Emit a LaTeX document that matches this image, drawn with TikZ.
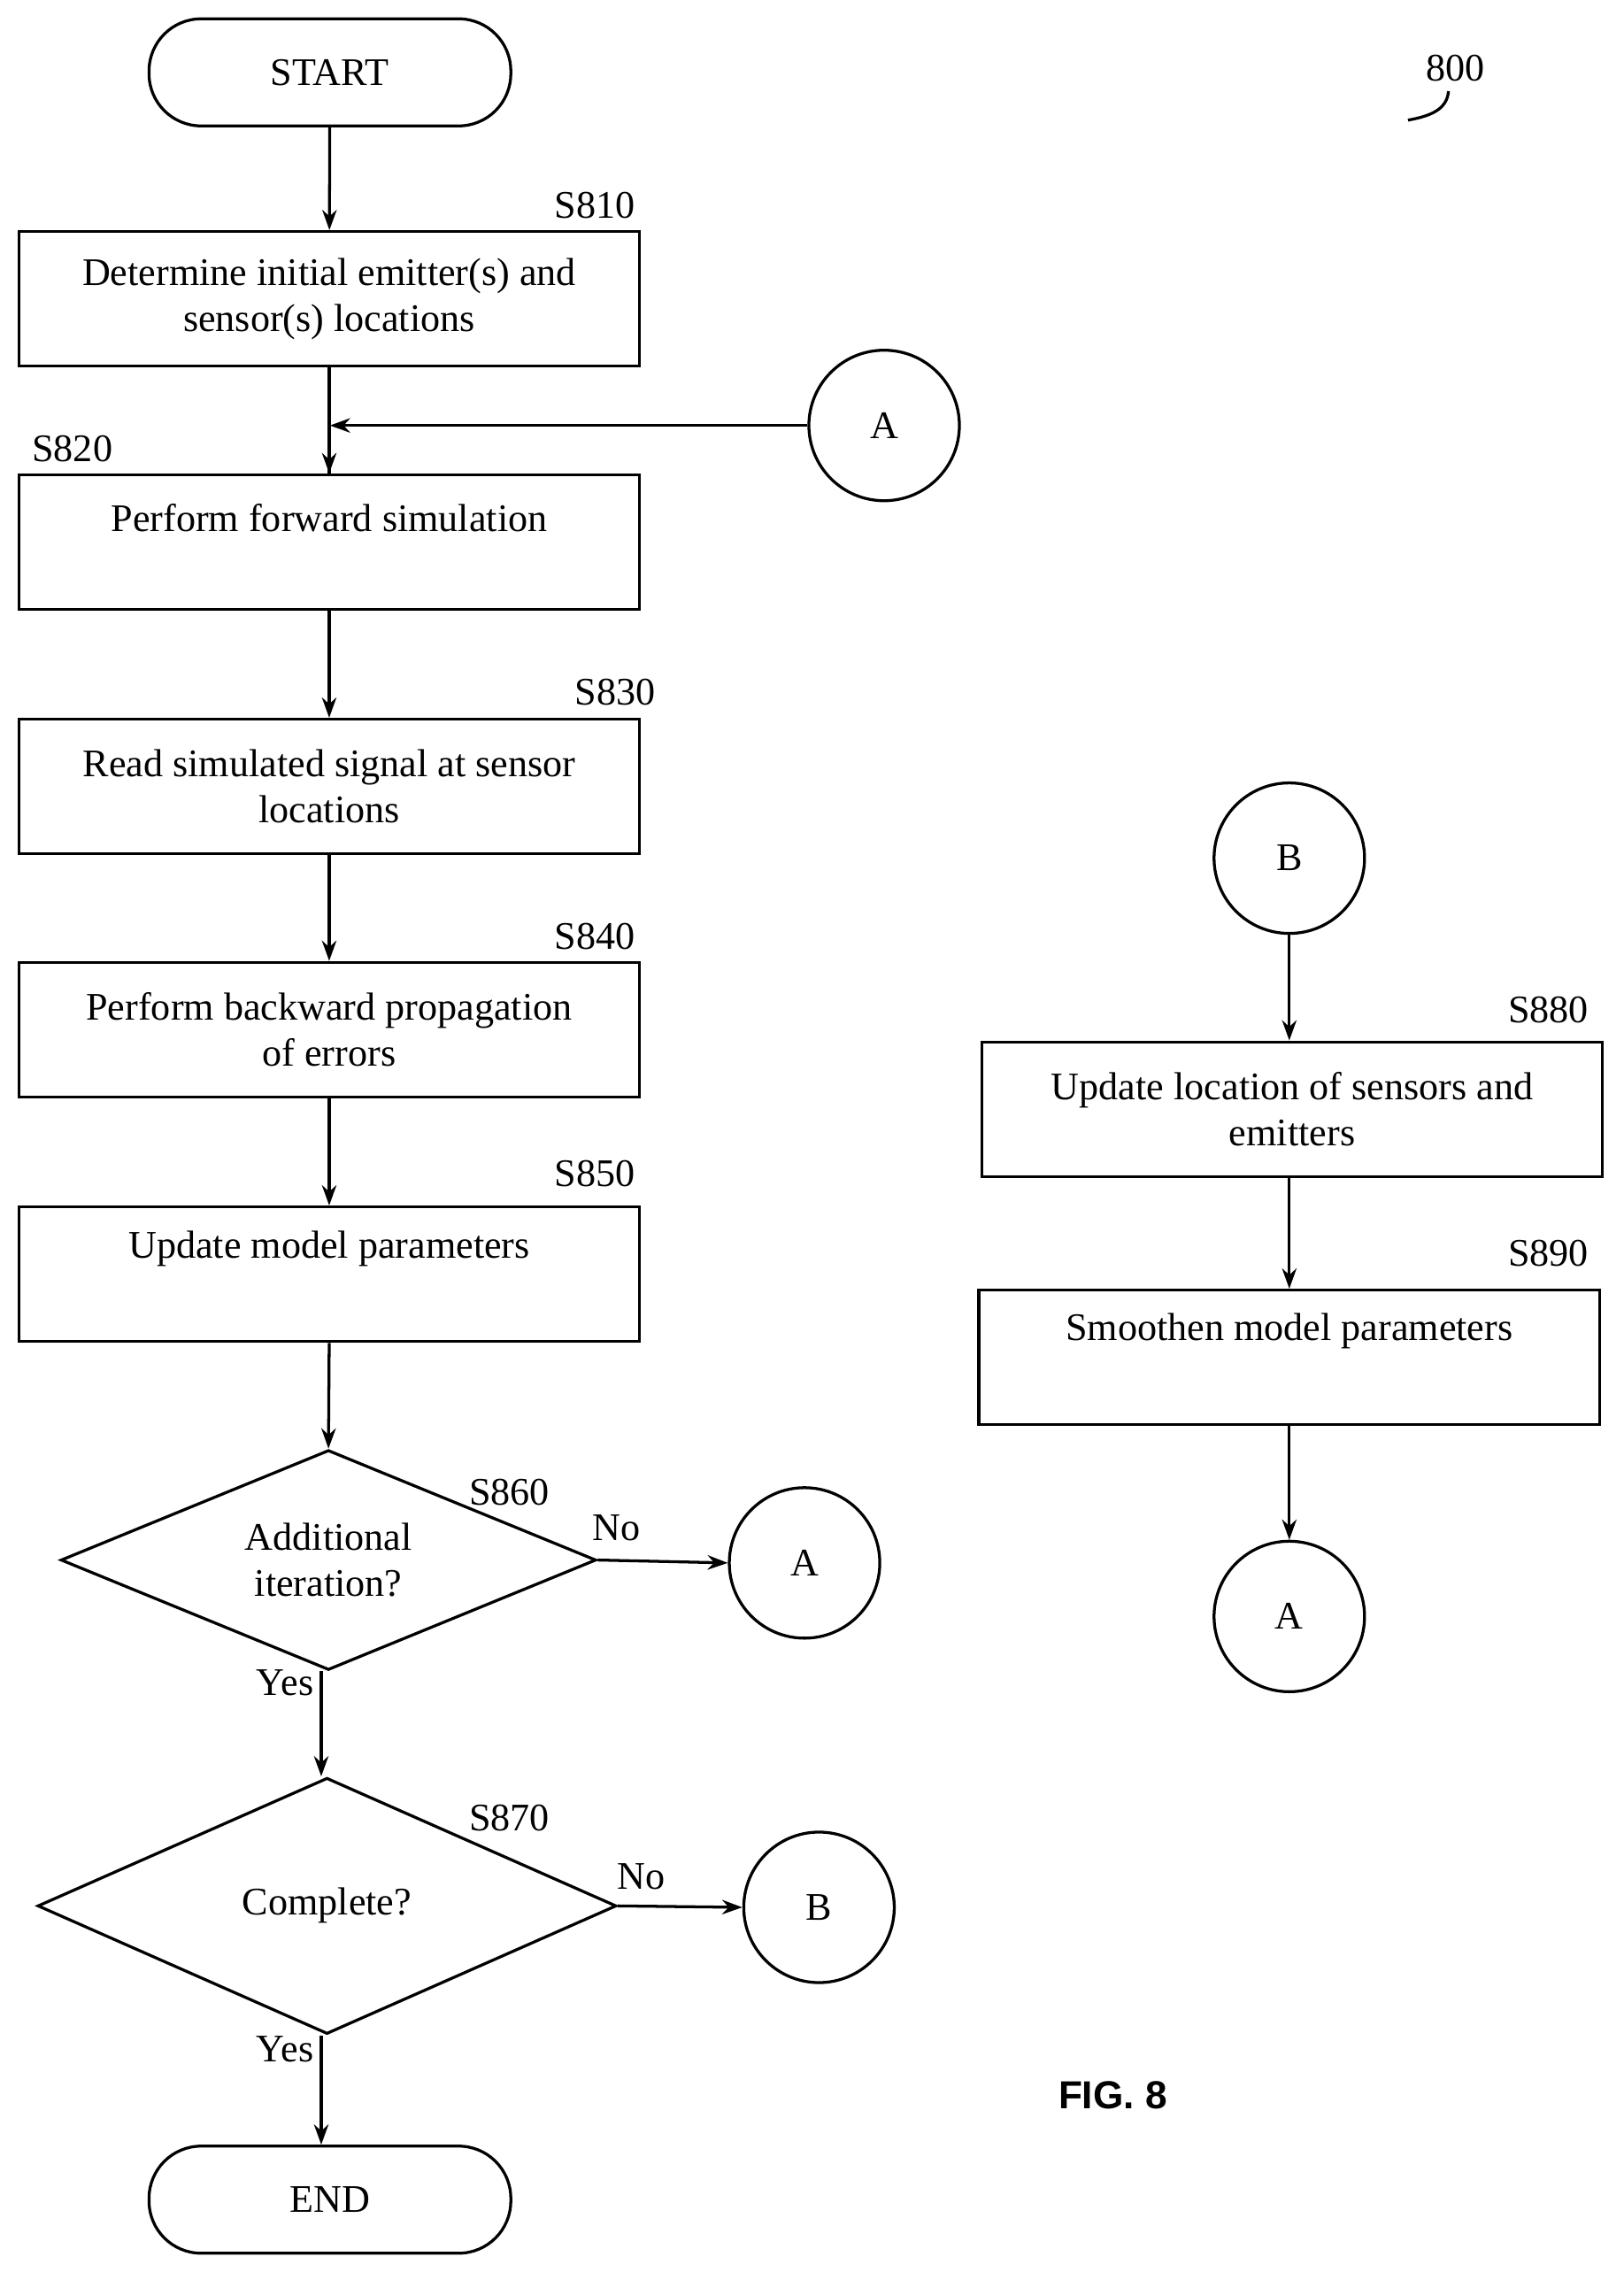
\documentclass[tikz,border=0pt]{standalone}
\usepackage{fontspec}
\setmainfont{Liberation Serif}
\newfontfamily\figfont{Liberation Sans}
\usetikzlibrary{shapes.geometric,arrows.meta}
\begin{document}
\begin{tikzpicture}[x=0.5pt,y=-0.5pt,line width=1pt,
  every node/.style={font=\fontsize{13.5}{16}\selectfont},
  box/.style={draw,minimum width=214.5pt,minimum height=46.5pt,align=center,inner sep=0pt},
  term/.style={draw,rounded corners=18pt,minimum width=125pt,minimum height=37pt},
  conn/.style={draw,circle,minimum size=52pt,inner sep=0pt},
  dia/.style={draw,diamond,aspect=2.45,inner sep=0pt,align=center},
  lbl/.style={inner sep=0pt},
  arr/.style={-{Stealth[length=7pt,width=5pt]}}]
\useasboundingbox (0,0) rectangle (1122,1570);
\node[term] (start) at (228,50) {START};
\node[box] (s810) at (227.5,206.5) {Determine initial emitter(s) and\\sensor(s) locations};
\node[lbl] at (411,142) {S810};
\node[box,minimum height=46.5pt] (s820) at (227.5,374.5) {};
\node[lbl] (t820) at (227.5,358) {Perform forward simulation};
\node[lbl] at (50,310) {S820};
\node[conn] (a1) at (611,294) {A};
\coordinate (j1) at (228,294);
\node[box] (s830) at (227.5,543.5) {Read simulated signal at sensor\\locations};
\node[lbl] at (425,478) {S830};
\node[box] (s840) at (227.5,711.5) {Perform backward propagation\\of errors};
\node[lbl] at (411,647) {S840};
\node[box] (s850) at (227.5,880.5) {};
\node[lbl] at (227.5,863) {Update model parameters};
\node[lbl] at (411,811) {S850};
\node[dia,minimum width=185pt,minimum height=76pt] (s860) at (227,1078) {Additional\\iteration?};
\node[lbl] at (352,1031) {S860};
\node[lbl] at (426,1056) {No};
\node[conn] (a2) at (556,1080) {A};
\node[lbl] at (197,1163) {Yes};
\node[dia,minimum width=200pt,minimum height=88.5pt] (s870) at (226,1317) {Complete?};
\node[lbl] at (352,1256) {S870};
\node[lbl] at (443,1297) {No};
\node[conn] (b1) at (566,1318) {B};
\node[lbl] at (197,1416) {Yes};
\node[term] (end) at (228,1520) {END};
\node[conn] (b2) at (891,593) {B};
\node[box] (s880) at (893,766.5) {Update location of sensors and\\emitters};
\node[lbl] at (1070,698) {S880};
\node[box] (s890) at (891,938) {};
\node[lbl] at (891,920) {Smoothen model parameters};
\node[lbl] at (1070,866) {S890};
\node[conn] (a3) at (891,1117) {A};
\node[lbl] (n800) at (1006,47) {800};
\coordinate (q1) at (973,83);
\node[lbl,font=\figfont\bfseries\fontsize{13.5}{16}\selectfont] at (769,1448) {FIG. 8};
\draw (q1) .. controls (990,80) and (1000,75) .. (1001,63);
\draw[arr] (start) -- (s810);
\draw (s810.south) -- (s820.north) ;
\draw[arr] (s810.south) -- (s820.north);
\draw[arr] (a1.west) -- (j1);
\draw[arr] (s820) -- (s830);
\draw[arr] (s830) -- (s840);
\draw[arr] (s840) -- (s850);
\draw[arr] (s850.south) -- (s860.north);
\draw[arr] (s860.east) -- (a2.west);
\draw[arr] (s860.south -| 222,0) -- (s870.north -| 222,0);
\draw[arr] (s870.east) -- (b1.west);
\draw[arr] (s870.south -| 222,0) -- (end.north -| 222,0);
\draw[arr] (b2) -- (s880.north -| b2);
\draw[arr] (s880.south -| b2) -- (s890.north -| b2);
\draw[arr] (s890.south -| a3) -- (a3);
\end{tikzpicture}
\end{document}
